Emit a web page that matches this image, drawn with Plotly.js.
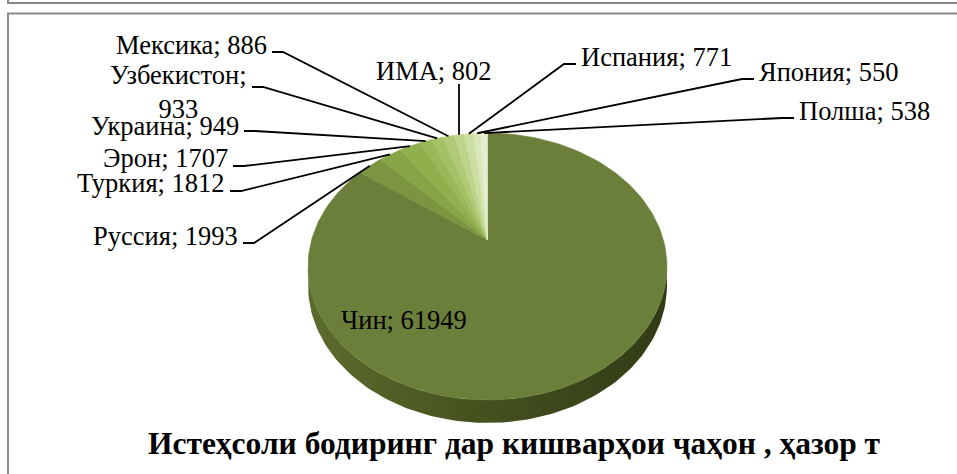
<!DOCTYPE html>
<html><head><meta charset="utf-8">
<script src="https://cdn.plot.ly/plotly-3.0.1.min.js"></script>
<style>html,body{margin:0;padding:0;background:#fff;}#chart{width:957px;height:474px;}</style>
</head><body><div id="chart"></div>
<script>
// ---- data ----
const countries = ['Чин','Руссия','Туркия','Эрон','Украина','Узбекистон','Мексика','ИМА','Испания','Япония','Полша'];
const production = [61949,1993,1812,1707,949,933,886,802,771,550,538];
const titleText = 'Истеҳсоли бодиринг дар кишварҳои ҷаҳон , ҳазор т';

// ---- styles ----
const sliceColors = ['#6c7f3a','#7b9540','#86a547','#90b04d','#99b958','#a4c165','#b0c976','#bed38b','#ccdea1','#d9e7b9','#e5eed3'];
const fontFam = 'Liberation Serif, Times New Roman, serif';

// ---- 3D pie geometry (pixel space) ----
const cx = 487.5, cy = 240, k = 0.1985, a = 175.9, b = 128.2, depth0 = 18.4;
function proj(theta, drop) {
  const t = theta * Math.PI / 180, u = Math.sin(t), v = Math.cos(t), s = 1 / (1 + k * v);
  return [cx + a * u * s, cy - b * v * s + (drop ? depth0 * s : 0)];
}

const total = production.reduce((p, c) => p + c, 0);
const starts = [], ends = [];
let acc = 0;
production.forEach(v => { starts.push(acc / total * 360); acc += v; ends.push(acc / total * 360); });

const traces = [];
// side (visible front half of the China slice)
const thR = 90 + Math.asin(k) * 180 / Math.PI, thL = 270 - Math.asin(k) * 180 / Math.PI;
{
  const xs = [], ys = [], n = 120;
  for (let j = 0; j <= n; j++) { const p = proj(thR + (thL - thR) * j / n, false); xs.push(p[0]); ys.push(p[1]); }
  for (let j = n; j >= 0; j--) { const p = proj(thR + (thL - thR) * j / n, true); xs.push(p[0]); ys.push(p[1]); }
  traces.push({type:'scatter', mode:'lines', x: xs, y: ys, fill:'toself', fillcolor:'#45521f',
    fillgradient:{type:'horizontal', colorscale:[[0,'#5c6c2d'],[0.45,'#46531f'],[1,'#313b16']]},
    line:{color:'rgba(0,0,0,0)', width:0}, hoverinfo:'skip', showlegend:false});
}
// top faces of slices
production.forEach((v, i) => {
  const xs = [cx], ys = [cy];
  const n = Math.max(4, Math.ceil((ends[i] - starts[i]) / 1.5));
  for (let j = 0; j <= n; j++) { const p = proj(starts[i] + (ends[i] - starts[i]) * j / n, false); xs.push(p[0]); ys.push(p[1]); }
  xs.push(cx); ys.push(cy);
  traces.push({type:'scatter', mode:'lines', x: xs, y: ys, fill:'toself', fillcolor: sliceColors[i],
    line:{color: sliceColors[i], width: 0.6}, hoverinfo:'skip', showlegend:false, name: countries[i]});
});

// ---- label layout ----
const labelLayout = [
  {x:404, y:320, anchor:'center', inside:true},
  {x:239, y:236, anchor:'right', ly:243},
  {x:226, y:183, anchor:'right', ly:191},
  {x:229, y:158, anchor:'right', ly:166},
  {x:240, y:126, anchor:'right', ly:131},
  {x:248, y:92,  anchor:'right', ly:87},
  {x:268, y:45,  anchor:'right', ly:52},
  {x:434, y:71,  anchor:'center', vertical:true, ly:84},
  {x:580, y:57,  anchor:'left', ly:64},
  {x:758, y:72,  anchor:'left', ly:79},
  {x:798, y:111, anchor:'left', ly:118}
];

const annotations = [];
countries.forEach((c, i) => {
  const L = labelLayout[i];
  const txt = c === 'Узбекистон' ? c + ';<br>' + production[i] : c + '; ' + production[i];
  annotations.push({x: L.x, y: L.y, xref:'x', yref:'y', text: txt, showarrow:false,
    xanchor: L.anchor, yanchor:'middle', align:'center', borderpad:0,
    font:{family: fontFam, size: 26.5, color:'#000'}});
  if (L.inside) return;
  const mid = proj((starts[i] + ends[i]) / 2, false);
  let xs, ys;
  if (L.vertical) { xs = [mid[0], mid[0]]; ys = [L.ly, mid[1]]; }
  else if (L.anchor === 'right') { xs = [L.x + 4, L.x + 15, mid[0]]; ys = [L.ly, L.ly, mid[1]]; }
  else { xs = [L.x - 4, L.x - 16, mid[0]]; ys = [L.ly, L.ly, mid[1]]; }
  traces.push({type:'scatter', mode:'lines', x: xs, y: ys, line:{color:'#000', width:1.8},
    hoverinfo:'skip', showlegend:false});
});

const layout = {
  width: 957, height: 474,
  margin: {l:0, r:0, t:0, b:0},
  paper_bgcolor:'#fff', plot_bgcolor:'#fff',
  xaxis: {range:[0, 957], visible:false, fixedrange:true},
  yaxis: {range:[474, 0], visible:false, fixedrange:true},
  title: {text: '<b>' + titleText + '</b>', x: 514/957, y: 1 - 443/474, xref:'container', yref:'container',
    xanchor:'center', yanchor:'middle', font:{family: fontFam, size: 31.5, color:'#000'}},
  annotations: annotations,
  shapes: [
    {type:'path', path:'M 8 -5 L 8 3 L 965 3', xref:'x', yref:'y', line:{color:'#8a8a8a', width:2}},
    {type:'rect', x0:8, y0:13.5, x1:970, y1:490, xref:'x', yref:'y', line:{color:'#8a8a8a', width:2}}
  ],
  showlegend:false,
  hovermode:false
};
Plotly.newPlot('chart', traces, layout, {staticPlot:true, displayModeBar:false});
</script></body></html>
